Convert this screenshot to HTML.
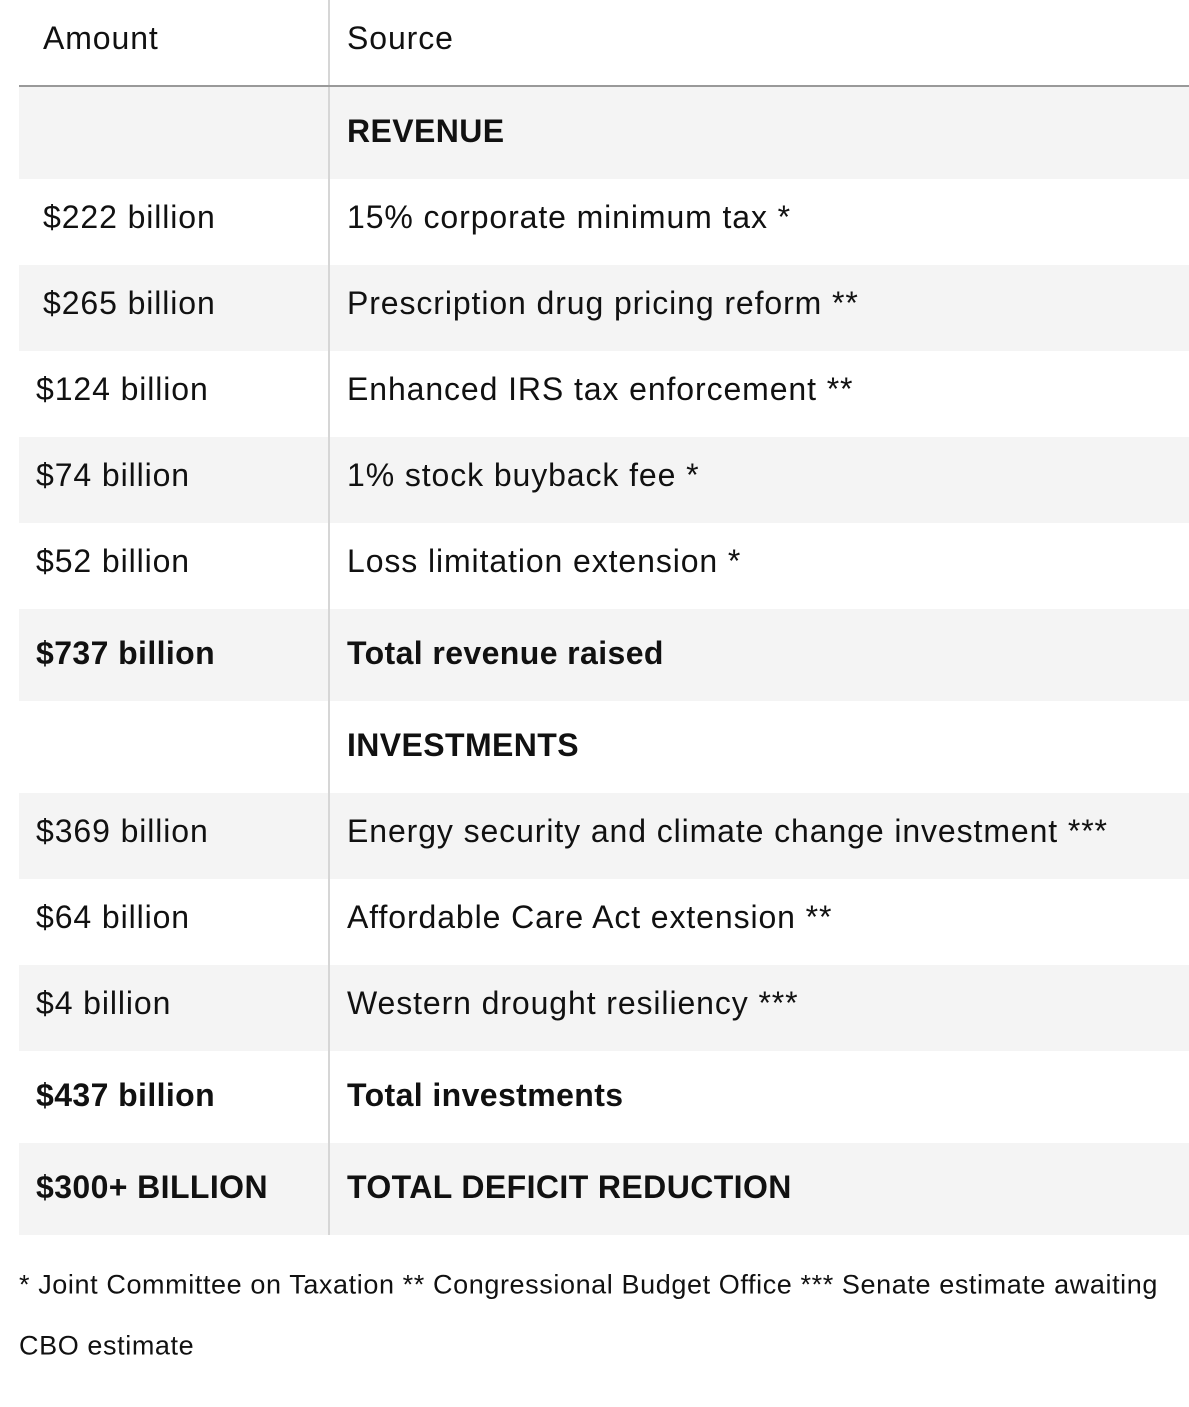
<!DOCTYPE html>
<html><head><meta charset="utf-8"><style>
body{margin:0;width:1189px;height:1407px;background:#fff;font-family:"Liberation Sans",sans-serif;color:#111;position:relative;overflow:hidden}
.r{position:absolute;left:19px;width:1170px;}
.s{background:#f4f4f4}
.t{position:absolute;font-size:32px;letter-spacing:0.9px;line-height:1;white-space:nowrap;transform:translateY(-50%)}
.b{font-weight:bold;letter-spacing:0.4px}
#div{position:absolute;left:328px;top:0;width:2px;height:1235px;background:#d6d6d6}
#hl{position:absolute;left:19px;top:85px;width:1170px;height:2px;background:#999}
.fn{position:absolute;left:19px;font-size:27px;letter-spacing:0.6px;white-space:nowrap;transform:translateY(-50%)}
</style></head><body>
<div class="r s" style="top:87px;height:92px"></div>
<div class="r s" style="top:265px;height:86px"></div>
<div class="r s" style="top:437px;height:86px"></div>
<div class="r s" style="top:609px;height:92px"></div>
<div class="r s" style="top:793px;height:86px"></div>
<div class="r s" style="top:965px;height:86px"></div>
<div class="r s" style="top:1143px;height:92px"></div>
<div id="div"></div>
<div id="hl"></div>

<div class="t" style="left:43px;top:38px">Amount</div>
<div class="t" style="left:347px;top:38px">Source</div>

<div class="t b" style="left:347px;top:131px">REVENUE</div>
<div class="t" style="left:43px;top:217px">$222 billion</div>
<div class="t" style="left:347px;top:217px">15% corporate minimum tax *</div>
<div class="t" style="left:43px;top:303px">$265 billion</div>
<div class="t" style="left:347px;top:303px">Prescription drug pricing reform **</div>
<div class="t" style="left:36px;top:389px">$124 billion</div>
<div class="t" style="left:347px;top:389px">Enhanced IRS tax enforcement **</div>
<div class="t" style="left:36px;top:475px">$74 billion</div>
<div class="t" style="left:347px;top:475px">1% stock buyback fee *</div>
<div class="t" style="left:36px;top:561px">$52 billion</div>
<div class="t" style="left:347px;top:561px">Loss limitation extension *</div>
<div class="t b" style="left:36px;top:653px">$737 billion</div>
<div class="t b" style="left:347px;top:653px">Total revenue raised</div>

<div class="t b" style="left:347px;top:745px">INVESTMENTS</div>
<div class="t" style="left:36px;top:831px">$369 billion</div>
<div class="t" style="left:347px;top:831px">Energy security and climate change investment ***</div>
<div class="t" style="left:36px;top:917px">$64 billion</div>
<div class="t" style="left:347px;top:917px">Affordable Care Act extension **</div>
<div class="t" style="left:36px;top:1003px">$4 billion</div>
<div class="t" style="left:347px;top:1003px">Western drought resiliency ***</div>
<div class="t b" style="left:36px;top:1095px">$437 billion</div>
<div class="t b" style="left:347px;top:1095px">Total investments</div>
<div class="t b" style="left:36px;top:1187px">$300+ BILLION</div>
<div class="t b" style="left:347px;top:1187px">TOTAL DEFICIT REDUCTION</div>

<div class="fn" style="top:1285px">* Joint Committee on Taxation ** Congressional Budget Office *** Senate estimate awaiting</div>
<div class="fn" style="top:1346px">CBO estimate</div>
</body></html>
